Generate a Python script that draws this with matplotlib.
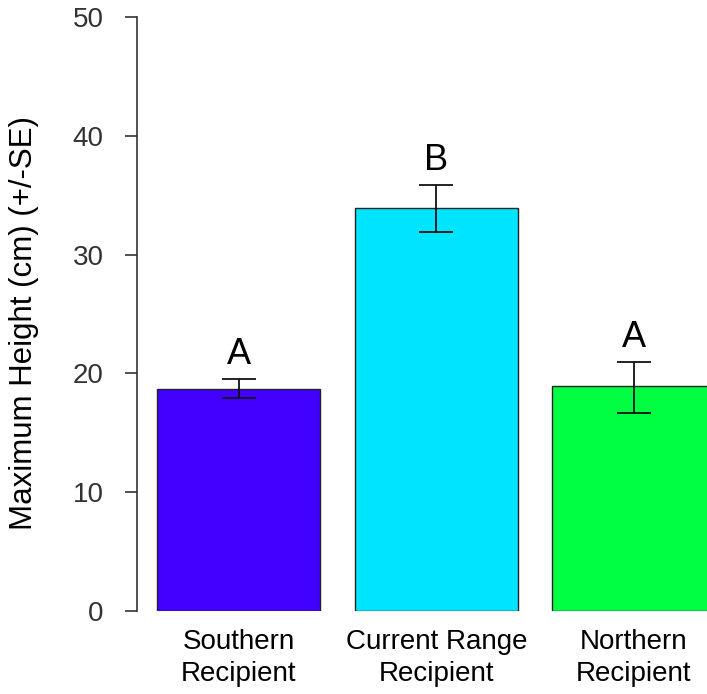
import numpy as np
import matplotlib
matplotlib.use("Agg")
import matplotlib.pyplot as plt

plt.rcParams['font.family'] = ['Liberation Sans', 'DejaVu Sans']

groups = ["Southern\nRecipient", "Current Range\nRecipient", "Northern\nRecipient"]
heights = [18.7, 33.9, 18.9]
err_upper = [19.5, 35.9, 21.0]
err_lower = [17.9, 31.9, 16.7]
letters = ["A", "B", "A"]
colors = ["#4100FF", "#00E5FF", "#00FF42"]

x = np.arange(len(groups))
heights = np.array(heights)
yerr = [heights - np.array(err_lower), np.array(err_upper) - heights]

W, H = 707, 694
fig = plt.figure(figsize=(W / 100, H / 100), dpi=100)
ax = fig.add_axes([137 / W, (H - 611) / H, (W - 137) / W, (611 - 17) / H])

ax.bar(x, heights, width=0.825, color=colors, edgecolor="#222222", linewidth=1.0, zorder=2)
ax.errorbar(x, heights, yerr=yerr, fmt="none", ecolor="#111111", elinewidth=1.3,
            capsize=12, capthick=1.3, zorder=3)

for xi, top, lab in zip(x, err_upper, letters):
    ax.text(xi, top + 2.05, lab, ha="center", va="center", fontsize=26, color="black")

ax.set_xlim(-0.516, 2.37)
ax.set_ylim(0, 50)
ax.set_yticks([0, 10, 20, 30, 40, 50])
ax.set_xticks(x)
ax.set_xticklabels(groups, fontsize=20, linespacing=1.3)
ax.tick_params(axis="x", length=0, pad=13)
ax.tick_params(axis="y", length=9, width=1.2, color="#333333", pad=15, labelsize=20,
               labelcolor="#333333")
ax.set_ylabel("Maximum Height (cm) (+/-SE)", fontsize=22.5)
ax.yaxis.set_label_coords(-0.172, 0.485)

for s in ["top", "right", "bottom"]:
    ax.spines[s].set_visible(False)
ax.spines["left"].set_color("#333333")
ax.spines["left"].set_linewidth(1.2)

fig.savefig("out.png", dpi=100)
